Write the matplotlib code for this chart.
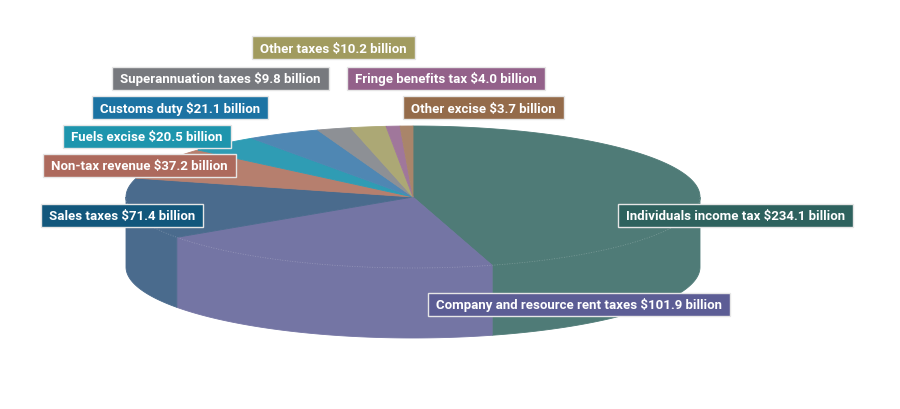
import numpy as np
import matplotlib
matplotlib.use("Agg")
import matplotlib.pyplot as plt
from matplotlib.patches import Polygon, Rectangle
import matplotlib.font_manager as fm

# ---------------- data ----------------
categories = ["Individuals income tax", "Company and resource rent taxes", "Sales taxes",
              "Non-tax revenue", "Fuels excise", "Customs duty", "Superannuation taxes",
              "Other taxes", "Fringe benefits tax", "Other excise"]
values = [234.1, 101.9, 71.4, 37.2, 20.5, 21.1, 9.8, 10.2, 4.0, 3.7]
labels = [f"{c} ${v:.1f} billion" for c, v in zip(categories, values)]

# ---------------- style / layout ----------------
slice_colors = ["#4f7b77", "#7475a4", "#4a6b8d", "#b67f6e", "#2f9cb4",
                "#4f87b3", "#8d9095", "#aca875", "#a0779b", "#a9856a"]
label_colors = ["#2e625e", "#5c5d95", "#12577c", "#ad6a5d", "#1e95ad",
                "#1c73a3", "#77797e", "#a19b5f", "#93618a", "#946b4a"]
label_pos = [(618, 216), (428, 305), (41, 216), (43, 166), (63, 137),
             (92, 108), (112, 79), (252, 48), (347, 79), (403, 108)]

cx, cy, rx, ry, depth = 413, 198, 287, 71, 70

font, fsize = "Roboto", 9.5

fig = plt.figure(figsize=(9, 4.1), dpi=100)
ax = fig.add_axes([0, 0, 1, 1])
ax.set_xlim(0, 900)
ax.set_ylim(410, 0)
ax.axis("off")


def pt(theta):
    t = np.radians(theta)
    return cx + rx * np.sin(t), cy - ry * np.cos(t)


total = sum(values)
angles = np.concatenate([[0], np.cumsum(values) / total * 360])

# side walls (front half only)
for i in range(len(values)):
    a, b = max(angles[i], 90), min(angles[i + 1], 270)
    if b <= a:
        continue
    th = np.linspace(a, b, 120)
    xs, ys = pt(th)
    poly = np.column_stack([np.concatenate([xs, xs[::-1]]),
                            np.concatenate([ys, ys[::-1] + depth])])
    ax.add_patch(Polygon(poly, closed=True, facecolor=slice_colors[i],
                         edgecolor=slice_colors[i], lw=0.6, zorder=1))

# top faces
for i in range(len(values)):
    th = np.linspace(angles[i], angles[i + 1], 200)
    xs, ys = pt(th)
    poly = np.column_stack([np.concatenate([[cx], xs]), np.concatenate([[cy], ys])])
    ax.add_patch(Polygon(poly, closed=True, facecolor=slice_colors[i],
                         edgecolor=slice_colors[i], lw=0.6, zorder=2))

# faint rim line on front edge
th = np.linspace(90, 270, 300)
xs, ys = pt(th)
ax.plot(xs, ys, color="white", lw=0.6, ls=(0, (1, 2)), alpha=0.25, zorder=3)

# labels
fig.canvas.draw()
renderer = fig.canvas.get_renderer()
inv = ax.transData.inverted()
padx, boxh = 8, 23
for i, txt in enumerate(labels):
    x0, yc = label_pos[i]
    t = ax.text(x0 + padx, yc + 4.5, txt, color="white", fontsize=fsize,
                fontweight="bold", family=[font, "DejaVu Sans"],
                ha="left", va="baseline", zorder=6)
    bb = t.get_window_extent(renderer=renderer)
    (bx0, _), (bx1, _) = inv.transform([[bb.x0, bb.y0], [bb.x1, bb.y1]])
    ax.add_patch(Rectangle((x0, yc - boxh / 2), (bx1 - x0) + padx, boxh,
                           facecolor=label_colors[i], edgecolor="#e6e6e6",
                           lw=1.0, zorder=5))

fig.savefig("out.png", dpi=100)
